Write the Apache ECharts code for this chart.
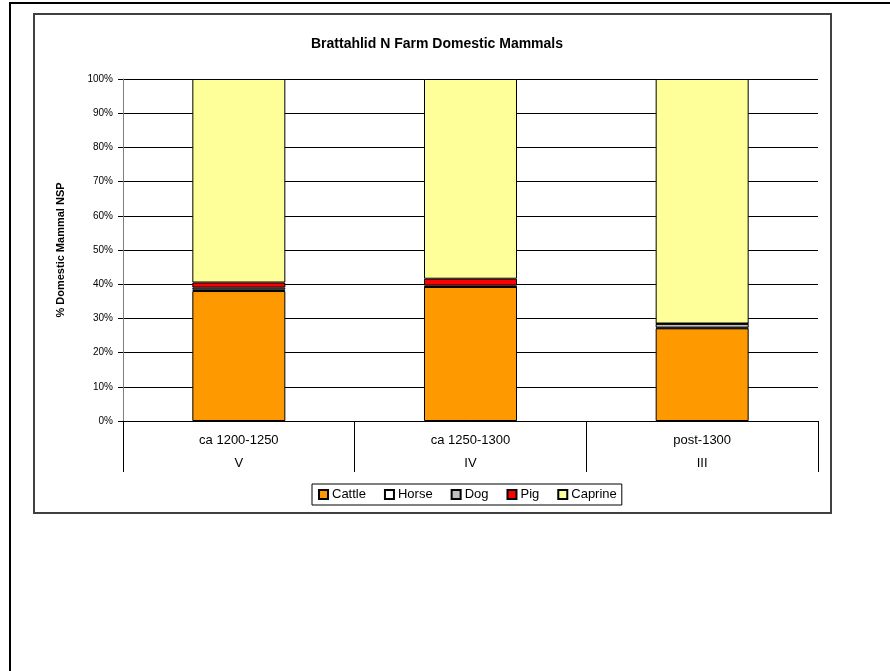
<!DOCTYPE html>
<html>
<head>
<meta charset="utf-8">
<script src="https://cdn.jsdelivr.net/npm/echarts@6/dist/echarts.min.js"></script>
<style>
html,body{margin:0;padding:0;background:#fff;}
#c{width:890px;height:671px;}
</style>
</head>
<body>
<div id="c"></div>
<script>
var categories = ['ca 1200-1250', 'ca 1250-1300', 'post-1300'];
var phases = ['V', 'IV', 'III'];
var cattle = [38.0, 39.2, 27.1];
var horse = [0.4, 0.0, 0.2];
var dog = [0.6, 0.4, 1.1];
var pig = [1.5, 2.0, 0.1];
var caprine = [59.5, 58.4, 71.5];
var yTicks = [0, 10, 20, 30, 40, 50, 60, 70, 80, 90, 100];

var FONT = '"Liberation Sans", Arial, sans-serif';
var chart = echarts.init(document.getElementById('c'));

function mk(name, data, color) {
  return {
    name: name, type: 'bar', stack: 'all', data: data, barWidth: 93,
    itemStyle: { color: color, borderColor: '#000', borderWidth: 1 },
    emphasis: { disabled: true }
  };
}

chart.setOption({
  animation: false,
  backgroundColor: '#fff',
  title: {
    text: 'Brattahlid N Farm Domestic Mammals',
    left: 432, top: 32, textAlign: 'center',
    textStyle: { fontFamily: FONT, fontSize: 14, fontWeight: 'bold', color: '#000' }
  },
  grid: { left: 123, right: 72, top: 79, bottom: 250 },
  legend: {
    left: 312, top: 484,
    data: ['Cattle', 'Horse', 'Dog', 'Pig', 'Caprine'],
    icon: 'rect', itemWidth: 9, itemHeight: 9, itemGap: 18,
    padding: [4, 5, 4, 6],
    borderColor: '#000', borderWidth: 1,
    textStyle: { fontFamily: FONT, fontSize: 13, color: '#000', padding: [0, 0, 0, -1] }
  },
  xAxis: {
    type: 'category', data: categories,
    axisLine: { show: true, lineStyle: { color: '#000', width: 1 } },
    axisTick: { show: true, length: 51, interval: 0, lineStyle: { color: '#000' } },
    axisLabel: {
      interval: 0, margin: 8,
      formatter: function (v, i) { return '{a|' + v + '}\n{a|' + phases[i] + '}'; },
      rich: { a: { fontFamily: FONT, fontSize: 13, color: '#000', lineHeight: 23 } }
    }
  },
  yAxis: {
    type: 'value', min: 0, max: 100, interval: 10,
    name: '% Domestic Mammal NSP', nameLocation: 'middle', nameGap: 57, nameRotate: 90,
    nameTextStyle: { fontFamily: FONT, fontSize: 11, fontWeight: 'bold', color: '#000' },
    axisLine: { show: true, lineStyle: { color: '#808080', width: 1 } },
    axisTick: { show: true, length: 5, lineStyle: { color: '#000' } },
    axisLabel: { fontFamily: FONT, fontSize: 10, color: '#000', margin: 10,
      formatter: function (v) { return yTicks.indexOf(v) >= 0 ? v + '%' : ''; } },
    splitLine: { show: true, lineStyle: { color: '#000', width: 1 } }
  },
  series: [
    mk('Cattle', cattle, '#FF9900'),
    mk('Horse', horse, '#FFFFFF'),
    mk('Dog', dog, '#C0C0C0'),
    mk('Pig', pig, '#FF0000'),
    mk('Caprine', caprine, '#FFFF99')
  ],
  graphic: [
    { type: 'rect', silent: true, z: -1, shape: { x: 34, y: 14, width: 797, height: 499 },
      style: { fill: null, stroke: '#404040', lineWidth: 2 } },
    { type: 'line', silent: true, shape: { x1: 10, y1: 2, x2: 10, y2: 671 },
      style: { stroke: '#000', lineWidth: 2 } },
    { type: 'line', silent: true, shape: { x1: 9, y1: 3, x2: 890, y2: 3 },
      style: { stroke: '#000', lineWidth: 2 } }
  ]
});
</script>
</body>
</html>
